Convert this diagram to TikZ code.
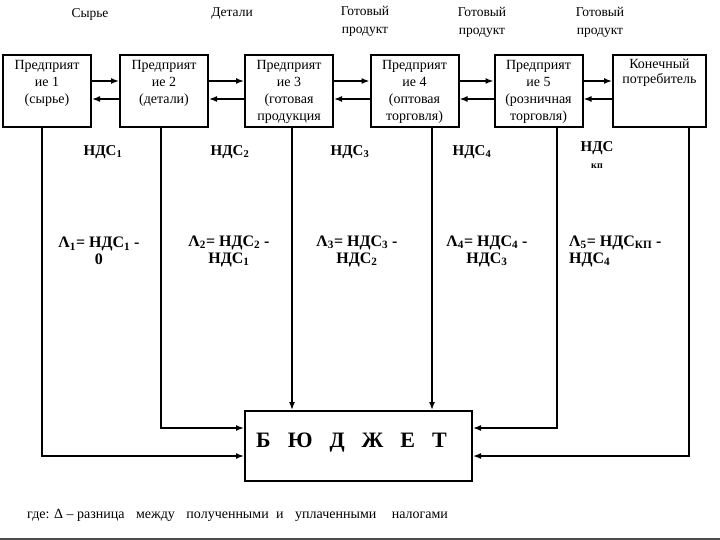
\documentclass[tikz,border=0pt]{standalone}
\usepackage{fontspec}
\setmainfont{Liberation Serif}
\usetikzlibrary{arrows.meta}
\begin{document}
\begin{tikzpicture}[x=1pt, y=-1pt,
    firm/.style={draw, line width=2pt, minimum width=88pt, minimum height=72pt, inner sep=0pt},
    firmtext/.style={anchor=north, align=center, inner sep=0pt, font=\fontsize{14}{17}\selectfont},
    goods/.style={align=center, inner sep=0pt, font=\fontsize{13.5}{18}\selectfont},
    vat/.style={align=center, inner sep=0pt, font=\bfseries\fontsize{15}{17}\selectfont},
    delta/.style={vat, font=\bfseries\fontsize{16}{17}\selectfont},
    arr/.style={line width=1.5pt, -{Latex[length=8pt,width=6pt]}}]
    % рамка рисунка
    \useasboundingbox (0,0) rectangle (720,540);
    \draw[line width=2pt, black!70] (0,538.5) -- (720,538.5);

    % предприятия
    \node[firm] (b1) at (47,91) {};
    \node[firm] (b2) at (164,91) {};
    \node[firm] (b3) at (289,91) {};
    \node[firm] (b4) at (414.5,91) {};
    \node[firm] (b5) at (538.5,91) {};
    \node[firm, minimum width=93pt] (b6) at (659.5,91) {};
    \node[firmtext] (t1) at ([yshift=-6pt]b1.north) {Предприят\\ие 1\\(сырье)};
    \node[firmtext] (t2) at ([yshift=-6pt]b2.north) {Предприят\\ие 2\\(детали)};
    \node[firmtext] (t3) at ([yshift=-6pt]b3.north) {Предприят\\ие 3\\(готовая\\продукция};
    \node[firmtext] (t4) at ([yshift=-6pt]b4.north) {Предприят\\ие 4\\(оптовая\\торговля)};
    \node[firmtext] (t5) at ([yshift=-6pt]b5.north) {Предприят\\ие 5\\(розничная\\торговля)};
    \node[firmtext, font=\fontsize{14}{15}\selectfont] (t6) at ([yshift=-5pt]b6.north) {Конечный\\потребитель};

    % бюджет
    \node[draw, line width=2pt, minimum width=227pt, minimum height=70pt] (bud) at (358.5,446) {};
    \node[inner sep=0pt, font=\bfseries\fontsize{22}{22}\selectfont] (budt) at ([xshift=-7pt,yshift=3pt]bud.center)
        {Б\hspace{17pt}Ю\hspace{17pt}Д\hspace{17pt}Ж\hspace{17pt}Е\hspace{17pt}Т};

    % товарные потоки
    \node[goods] (g1) at (90,14) {Сырье};
    \node[goods] (g2) at (232,14) {Детали};
    \node[goods] (g3) at (365,21) {Готовый\\продукт};
    \node[goods] (g4) at (482,22) {Готовый\\продукт};
    \node[goods] (g5) at (600,22) {Готовый\\продукт};

    % уровни стрелок
    \coordinate (ya) at (0,81);
    \coordinate (yb) at (0,99);
    \coordinate (yc) at (0,428);
    \coordinate (yd) at (0,456);
    \draw[arr] (b1.east |- ya) -- (b2.west |- ya);
    \draw[arr] (b2.west |- yb) -- (b1.east |- yb);
    \draw[arr] (b2.east |- ya) -- (b3.west |- ya);
    \draw[arr] (b3.west |- yb) -- (b2.east |- yb);
    \draw[arr] (b3.east |- ya) -- (b4.west |- ya);
    \draw[arr] (b4.west |- yb) -- (b3.east |- yb);
    \draw[arr] (b4.east |- ya) -- (b5.west |- ya);
    \draw[arr] (b5.west |- yb) -- (b4.east |- yb);
    \draw[arr] (b5.east |- ya) -- (b6.west |- ya);
    \draw[arr] (b6.west |- yb) -- (b5.east |- yb);

    % НДС в бюджет
    \coordinate (x1) at (42,0);
    \coordinate (x2) at (161,0);
    \coordinate (x3) at (292,0);
    \coordinate (x4) at (432,0);
    \coordinate (x5) at (557,0);
    \coordinate (x6) at (689,0);
    \draw[arr] (b1.south -| x1) |- (bud.west |- yd);
    \draw[arr] (b2.south -| x2) |- (bud.west |- yc);
    \draw[arr] (b3.south -| x3) -- (bud.north -| x3);
    \draw[arr] (b4.south -| x4) -- (bud.north -| x4);
    \draw[arr] (b5.south -| x5) |- (bud.east |- yc);
    \draw[arr] (b6.south -| x6) |- (bud.east |- yd);

    % подписи НДС
    \node[vat] (n1) at (103,152) {НДС\textsubscript{1}};
    \node[vat] (n2) at (230,152) {НДС\textsubscript{2}};
    \node[vat] (n3) at (350,152) {НДС\textsubscript{3}};
    \node[vat] (n4) at (472,152) {НДС\textsubscript{4}};
    \node[vat] (n5) at (597,148) {НДС};
    \node[vat, font=\bfseries\fontsize{10}{10}\selectfont] (n5b) at (597,166) {кп};

    % разницы
    \node[delta] (d1) at (99,251) {Λ\textsubscript{1}= НДС\textsubscript{1} -\\0};
    \node[delta] (d2) at (229,251) {Λ\textsubscript{2}= НДС\textsubscript{2} -\\НДС\textsubscript{1}};
    \node[delta] (d3) at (357,251) {Λ\textsubscript{3}= НДС\textsubscript{3} -\\НДС\textsubscript{2}};
    \node[delta] (d4) at (487,251) {Λ\textsubscript{4}= НДС\textsubscript{4} -\\НДС\textsubscript{3}};
    \node[delta, align=left, anchor=west] (d5) at (569,251) {Λ\textsubscript{5}= НДС\textsubscript{КП} -\\НДС\textsubscript{4}};

    % пояснение
    \node[anchor=west, inner sep=0pt, font=\fontsize{14}{14}\selectfont] (note) at (27,515)
        {где: Δ – разница\hspace{8pt} между\hspace{8pt} полученными\hspace{4pt} и\hspace{8pt} уплаченными\hspace{12pt} налогами};
\end{tikzpicture}
\end{document}
